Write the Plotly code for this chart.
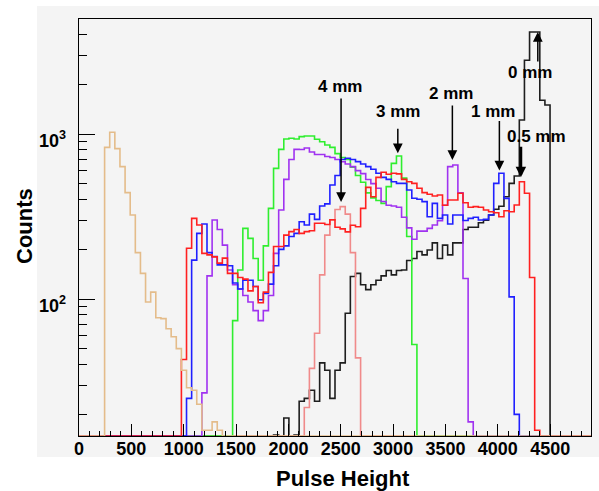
import numpy as np
import plotly.graph_objects as go

# ---------------- data (counts per bin, 100 bins over 0..4890) ----------------
X_MAX = 4890
N_BINS = 100

counts_noise = [
    0, 0, 0, 0, 0, 830, 1024, 815, 634, 441,
    323, 191, 143, 96, 110, 77, 76, 66, 59, 50,
    37, 29, 28, 23, 16, 16, 18, 16, 0, 0,
    0, 0, 0, 0, 0, 0, 0, 0, 0, 0,
    0, 0, 0, 0, 0, 0, 0, 0, 0, 0,
    0, 0, 0, 0, 0, 0, 0, 0, 0, 0,
    0, 0, 0, 0, 0, 0, 0, 0, 0, 0,
    0, 0, 0, 0, 0, 0, 0, 0, 0, 0,
    0, 0, 0, 0, 0, 0, 0, 0, 0, 0,
    0, 0, 0, 0, 0, 0, 0, 0, 0, 0,
]

counts_0mm = [
    0, 0, 0, 0, 0, 0, 0, 0, 0, 0,
    0, 0, 0, 0, 0, 0, 0, 0, 0, 0,
    0, 0, 0, 0, 0, 0, 0, 0, 0, 0,
    0, 0, 0, 0, 0, 0, 0, 0, 15, 0,
    19, 0, 15, 24, 25, 28, 24, 41, 37, 25,
    37, 41, 82, 137, 143, 122, 114, 122, 130, 138,
    149, 140, 149, 150, 171, 176, 194, 185, 198, 219,
    176, 212, 185, 219, 219, 264, 272, 272, 290, 300,
    323, 350, 365, 417, 502, 556, 1216, 2800, 4150, 4150,
    1600, 1500, 0, 0, 0, 0, 0, 0, 0, 0,
]

counts_05mm = [
    0, 0, 0, 0, 0, 0, 0, 0, 0, 0,
    0, 0, 0, 0, 0, 0, 0, 0, 0, 0,
    43, 203, 308, 281, 189, 185, 180, 165, 177, 143,
    143, 135, 132, 112, 119, 95, 110, 145, 208, 208,
    244, 256, 264, 250, 256, 259, 288, 288, 283, 302,
    272, 266, 255, 280, 274, 354, 475, 417, 546, 586,
    570, 578, 573, 531, 514, 502, 469, 441, 431, 421,
    427, 370, 398, 398, 437, 383, 360, 363, 360, 346,
    338, 333, 315, 343, 338, 371, 514, 437, 135, 16,
    0, 0, 0, 0, 0, 0, 0, 0, 0, 0,
]

counts_1mm = [
    0, 0, 0, 0, 0, 0, 0, 0, 0, 0,
    0, 0, 0, 0, 0, 0, 0, 0, 0, 0,
    0, 25, 172, 250, 285, 191, 181, 161, 161, 159,
    125, 115, 130, 130, 119, 99, 108, 123, 159, 200,
    210, 239, 250, 294, 281, 327, 304, 366, 377, 491,
    560, 700, 713, 700, 680, 658, 634, 611, 578, 546,
    531, 514, 502, 502, 458, 408, 402, 389, 315, 380,
    308, 323, 285, 323, 323, 299, 308, 313, 301, 304,
    323, 502, 578, 407, 103, 20, 0, 0, 0, 0,
    0, 0, 0, 0, 0, 0, 0, 0, 0, 0,
]

counts_2mm = [
    0, 0, 0, 0, 0, 0, 0, 0, 0, 0,
    0, 0, 0, 0, 0, 0, 0, 0, 0, 0,
    0, 0, 0, 0, 27, 138, 301, 264, 212, 150,
    122, 115, 105, 96, 85, 74, 85, 105, 189, 346,
    531, 701, 807, 805, 823, 778, 752, 752, 730, 720,
    700, 679, 658, 634, 600, 575, 530, 500, 469, 390,
    370, 366, 360, 313, 270, 230, 258, 258, 268, 281,
    298, 370, 634, 649, 440, 133, 18, 0, 0, 0,
    0, 0, 0, 0, 0, 0, 0, 0, 0, 0,
    0, 0, 0, 0, 0, 0, 0, 0, 0, 0,
]

counts_3mm = [
    0, 0, 0, 0, 0, 0, 0, 0, 0, 0,
    0, 0, 0, 0, 0, 0, 0, 0, 0, 0,
    0, 0, 0, 0, 0, 0, 0, 0, 0, 0,
    74, 150, 268, 233, 176, 130, 210, 354, 619, 807,
    933, 942, 933, 964, 973, 973, 929, 898, 857, 830,
    760, 720, 700, 630, 560, 510, 440, 410, 395, 380,
    480, 664, 736, 540, 239, 53, 0, 0, 0, 0,
    0, 0, 0, 0, 0, 0, 0, 0, 0, 0,
    0, 0, 0, 0, 0, 0, 0, 0, 0, 0,
    0, 0, 0, 0, 0, 0, 0, 0, 0, 0,
]

counts_4mm = [
    0, 0, 0, 0, 0, 0, 0, 0, 0, 0,
    0, 0, 0, 0, 0, 0, 0, 0, 0, 0,
    0, 0, 0, 0, 0, 0, 0, 0, 0, 0,
    0, 0, 0, 0, 0, 0, 0, 0, 0, 0,
    0, 0, 0, 0, 22, 38, 62, 140, 244, 301,
    349, 363, 327, 191, 44, 0, 0, 0, 0, 0,
    0, 0, 0, 0, 0, 0, 0, 0, 0, 0,
    0, 0, 0, 0, 0, 0, 0, 0, 0, 0,
    0, 0, 0, 0, 0, 0, 0, 0, 0, 0,
    0, 0, 0, 0, 0, 0, 0, 0, 0, 0,
]

x_tick_values = [0, 500, 1000, 1500, 2000, 2500, 3000, 3500, 4000, 4500]
y_tick_values = [100, 1000]
y_tick_labels = ["10<sup>2</sup>", "10<sup>3</sup>"]
y_minor_values = [20, 30, 40, 50, 60, 70, 80, 90,
                  200, 300, 400, 500, 600, 700, 800, 900,
                  2000, 3000, 4000]

peak_labels = ["4 mm", "3 mm", "2 mm", "1 mm", "0.5 mm", "0 mm"]
peak_tip_x = [2503, 3045, 3566, 4015, 4220, 4382]
peak_tip_counts = [387, 764, 695, 600, 547, 4150]

# ---------------- drawing ----------------
Y_LOG_MIN = 1.1697
Y_LOG_MAX = 3.697
floor = 10 ** Y_LOG_MIN
edges = np.linspace(0, X_MAX, N_BINS + 1)


def step_y(counts):
    c = np.maximum(np.asarray(counts, dtype=float), floor)
    return np.append(c, c[-1])


GRAY = "#f4f4f4"
series = [
    (counts_0mm, "#1e1e1e"),
    (counts_4mm, "#f08a8a"),
    (counts_3mm, "#2fee2f"),
    (counts_2mm, "#a032f0"),
    (counts_1mm, "#2020ff"),
    (counts_05mm, "#ff2020"),
    (counts_noise, "#e4bc8a"),
]

fig = go.Figure()
for counts, color in series:
    fig.add_trace(go.Scatter(
        x=edges, y=step_y(counts), mode="lines",
        line=dict(color=color, width=1.6, shape="hv"),
        hoverinfo="skip", showlegend=False,
    ))

FONT = "Liberation Sans"
tickfont = dict(family=FONT, size=18, color="black", weight="bold")

L, R, T, B = 79, 591, 19, 436
W, H = 599, 491


def px_to_paper(px, py):
    return (px - L) / (R - L), (B - py) / (B - T)


annotations = []
tail_offsets = [-105, -26, -56, -51, -32, 31]
arrow_widths = [1.5, 1.5, 1.5, 1.5, 2.8, 1.5]
arrow_sizes = [1.3, 1.3, 1.3, 1.3, 0.75, 1.3]
text_px = [(340, 86), (398, 112), (451, 93), (493, 112), (536, 136), (530, 73)]
for lab, tx, tc, off, aw, asz, (px, py) in zip(peak_labels, peak_tip_x, peak_tip_counts,
                                               tail_offsets, arrow_widths, arrow_sizes, text_px):
    annotations.append(dict(
        x=tx, y=np.log10(tc), xref="x", yref="y", text="",
        showarrow=True, ax=0, ay=off, arrowhead=2, arrowsize=asz,
        arrowwidth=aw, arrowcolor="black", standoff=0, startstandoff=0,
    ))
    xp, yp = px_to_paper(px, py)
    annotations.append(dict(
        x=xp, y=yp, xref="paper", yref="paper", text=lab, showarrow=False,
        xanchor="center", yanchor="middle",
        font=dict(family=FONT, size=17, color="black", weight="bold"),
    ))

# y tick labels (10^n), placed like the reference
for val, txt in zip(y_tick_values, y_tick_labels):
    annotations.append(dict(
        x=(68 - L) / (R - L), y=np.log10(val), xref="paper", yref="y", text=txt,
        showarrow=False, xanchor="right", yanchor="middle", yshift=-5,
        font=tickfont,
    ))

xp, yp = px_to_paper(343, 478)
annotations.append(dict(x=xp, y=yp, xref="paper", yref="paper", text="Pulse Height",
                        showarrow=False, xanchor="center", yanchor="middle",
                        font=dict(family=FONT, size=22, color="black", weight="bold")))
xp, yp = px_to_paper(24, 226)
annotations.append(dict(x=xp, y=yp, xref="paper", yref="paper", text="Counts",
                        showarrow=False, xanchor="center", yanchor="middle", textangle=-90,
                        font=dict(family=FONT, size=22, color="black", weight="bold")))

x0, y1 = px_to_paper(37, 6)
x1, y0 = px_to_paper(W, 457)
shapes = [dict(type="rect", xref="paper", yref="paper", x0=x0, x1=x1, y0=y0, y1=y1,
               fillcolor=GRAY, line=dict(width=0), layer="below")]

fig.update_layout(
    width=W, height=H,
    margin=dict(l=L, r=W - R, t=T, b=H - B, pad=0),
    paper_bgcolor="white", plot_bgcolor=GRAY,
    shapes=shapes, annotations=annotations,
    xaxis=dict(
        range=[0, X_MAX], tickmode="array", tickvals=x_tick_values,
        ticks="inside", ticklen=12, tickwidth=1, tickcolor="black",
        minor=dict(ticks="inside", ticklen=5, dtick=100, tick0=0, tickcolor="black", tickwidth=1),
        showline=True, mirror=True, linecolor="black", linewidth=1,
        showgrid=False, zeroline=False, tickfont=tickfont, ticklabelstandoff=-4,
    ),
    yaxis=dict(
        type="log", range=[Y_LOG_MIN, Y_LOG_MAX], tickmode="array",
        tickvals=y_tick_values, showticklabels=False,
        ticks="inside", ticklen=16, tickwidth=1, tickcolor="black",
        minor=dict(ticks="inside", ticklen=8, tickmode="array", tickvals=y_minor_values,
                   tickcolor="black", tickwidth=1),
        showline=True, mirror=True, linecolor="black", linewidth=1,
        showgrid=False, zeroline=False,
    ),
)

fig.write_html("out.html")
